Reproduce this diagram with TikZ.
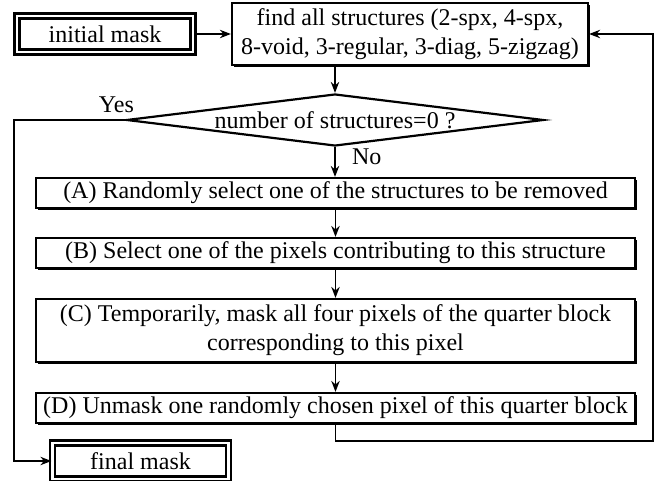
\documentclass[tikz,border=0pt]{standalone}
\usepackage{fontspec}
\setmainfont{Liberation Serif}
\usetikzlibrary{shapes.geometric,shadows,arrows.meta}

\begin{document}
\begin{tikzpicture}[x=0.5pt, y=-0.5pt, >={Stealth[length=5.5pt,width=4.2pt]},
  font=\fontsize{12}{14.5}\selectfont,
  box/.style={draw, line width=1.1pt, fill=white, align=center, inner sep=0pt,
    drop shadow={shadow xshift=1.1pt, shadow yshift=-1.1pt, opacity=1, fill=black}},
  mask/.style={draw, line width=1.1pt, double, double distance=1.4pt,
    minimum width=88pt, minimum height=18pt, inner sep=0pt},
  decision/.style={draw, shape=diamond, line width=1.1pt, inner sep=0pt,
    minimum width=208.5pt, minimum height=26pt},
  flow/.style={->, line width=0.8pt}]

 \useasboundingbox (0,0) rectangle (659,481);

 % start and search
 \node[mask] (initial) at (105,34) {initial mask};
 \node[box, minimum width=178pt, minimum height=31pt] (find) at (410,34)
      {find all structures (2-spx, 4-spx,\\ 8-void, 3-regular, 3-diag, 5-zigzag)};
 \node[decision, label=center:{number of structures=0 ?}] (test) at (335,120) {};

 % steps
 \foreach \name/\y/\h/\txt in {
     stepA/193/15/{(A) Randomly select one of the structures to be removed},
     stepB/253/15/{(B) Select one of the pixels contributing to this structure},
     stepC/330.5/31.5/{(C) Temporarily, mask all four pixels of the quarter block\\ corresponding to this pixel},
     stepD/408/15/{(D) Unmask one randomly chosen pixel of this quarter block}} {
   \node[box, minimum width=299.5pt, minimum height=\h pt] (\name) at (335.5,\y) {\txt};
 }

 \node[mask] (final) at (140.5,461) {final mask};

 % labels
 \node[above, xshift=-4.5pt] (yes) at (test.west) {Yes};
 \node[below right, xshift=5pt, yshift=2.5pt] (no) at (test.south) {No};

 % lines
 \coordinate (yesturn) at (14,120);
 \coordinate (loopturn) at (653,441);
 \draw[flow] (initial) -- (find);
 \draw[flow] (test.north |- find.south) -- (test.north);
 \foreach \src/\dst in {test/stepA, stepA/stepB, stepB/stepC, stepC/stepD}
   \draw[flow] (\src.south) -- (\src.south |- \dst.north);
 \draw[flow] (test.west) -- (yesturn) |- (final.west);
 \draw[flow] (stepD.south) |- (loopturn) |- (find.east);

\end{tikzpicture}
\end{document}
